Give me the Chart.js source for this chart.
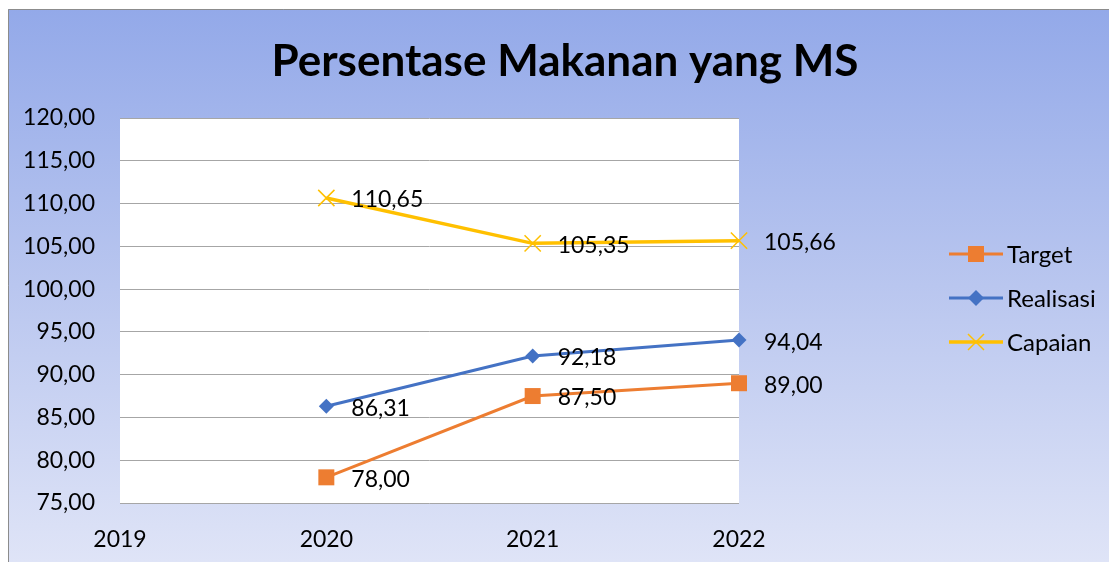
<!DOCTYPE html>
<html>
<head>
<meta charset="utf-8">
<script src="https://cdn.jsdelivr.net/npm/chart.js@4.4.1/dist/chart.umd.min.js"></script>
<style>
  html, body { margin: 0; padding: 0; background: #fff; }
  #wrap { width: 1109px; height: 562px; }
</style>
</head>
<body>
<div id="wrap"><canvas id="myChart" width="1109" height="562"></canvas></div>
<script>
const chartTitle = 'Persentase Makanan yang MS';
const years = [2020, 2021, 2022];
const seriesNames = ['Target', 'Realisasi', 'Capaian'];
const target = [78.00, 87.50, 89.00];
const realisasi = [86.31, 92.18, 94.04];
const capaian = [110.65, 105.35, 105.66];
const xTicks = [2019, 2020, 2021, 2022];
const yTicks = [75, 80, 85, 90, 95, 100, 105, 110, 115, 120];

const colors = ['#ED7D31', '#4472C4', '#FFC000'];
const FONT = 'Lato';

function fmt(v) {
  return v.toFixed(2).replace('.', ',');
}

function toPoints(values) {
  return years.map((y, i) => ({ x: y, y: values[i] }));
}

// draw one legend marker by hand (square / diamond / cross)
function drawMarker(ctx, kind, x, y, color) {
  ctx.save();
  ctx.fillStyle = color;
  ctx.strokeStyle = color;
  if (kind === 'rect') {
    ctx.fillRect(x - 8, y - 8, 16, 16);
  } else if (kind === 'rectRot') {
    ctx.beginPath();
    ctx.moveTo(x, y - 8);
    ctx.lineTo(x + 8, y);
    ctx.lineTo(x, y + 8);
    ctx.lineTo(x - 8, y);
    ctx.closePath();
    ctx.fill();
  } else {
    ctx.lineWidth = 1.5;
    ctx.beginPath();
    ctx.moveTo(x - 8, y - 8); ctx.lineTo(x + 8, y + 8);
    ctx.moveTo(x + 8, y - 8); ctx.lineTo(x - 8, y + 8);
    ctx.stroke();
  }
  ctx.restore();
}

const backgroundPlugin = {
  id: 'bg',
  beforeDraw(chart) {
    const { ctx, width, height, chartArea } = chart;
    ctx.save();
    ctx.fillStyle = '#fff';
    ctx.fillRect(0, 0, width, height);
    const g = ctx.createLinearGradient(0, 9, 0, height);
    g.addColorStop(0, '#93a9e9');
    g.addColorStop(0.5, '#b9c6ef');
    g.addColorStop(1, '#dfe4f7');
    ctx.fillStyle = g;
    ctx.fillRect(8, 9, width - 8, height - 9);
    ctx.strokeStyle = '#8c8c8c';
    ctx.lineWidth = 1;
    ctx.beginPath();
    ctx.moveTo(8.5, height); ctx.lineTo(8.5, 9.5); ctx.lineTo(width, 9.5);
    ctx.stroke();
    ctx.fillStyle = '#fff';
    ctx.fillRect(chartArea.left, chartArea.top, chartArea.right - chartArea.left, chartArea.bottom - chartArea.top);
    ctx.restore();
  }
};

const labelsPlugin = {
  id: 'labels',
  afterDraw(chart) {
    const { ctx } = chart;
    ctx.save();
    ctx.font = '23px ' + FONT;
    ctx.fillStyle = '#000';
    ctx.textAlign = 'left';
    ctx.textBaseline = 'middle';
    chart.data.datasets.forEach((ds, i) => {
      const meta = chart.getDatasetMeta(i);
      meta.data.forEach((pt, j) => {
        ctx.fillText(fmt(ds.data[j].y), pt.x + 25, pt.y + 2);
      });
    });

    // title
    ctx.font = 'bold 44px ' + FONT;
    ctx.textAlign = 'center';
    ctx.fillText(chartTitle, 565, 62);

    // legend
    ctx.font = '24px ' + FONT;
    ctx.textAlign = 'left';
    const rows = [254, 298, 342];
    chart.data.datasets.forEach((ds, i) => {
      const y = rows[i];
      ctx.strokeStyle = ds.borderColor;
      ctx.lineWidth = ds.borderWidth;
      ctx.beginPath();
      ctx.moveTo(949, y); ctx.lineTo(1003, y);
      ctx.stroke();
      drawMarker(ctx, ds.pointStyle, 976, y, ds.borderColor);
      ctx.fillStyle = '#000';
      ctx.fillText(ds.label, 1007, y + 1);
    });
    ctx.restore();
  }
};

const canvas = document.getElementById('myChart');

new Chart(canvas, {
  type: 'line',
  data: {
    datasets: [
      {
        label: seriesNames[0],
        data: toPoints(target),
        borderColor: colors[0],
        backgroundColor: colors[0],
        borderWidth: 3,
        pointStyle: 'rect',
        pointRadius: 11.3,
        pointBorderWidth: 0,
        clip: false,
      },
      {
        label: seriesNames[1],
        data: toPoints(realisasi),
        borderColor: colors[1],
        backgroundColor: colors[1],
        borderWidth: 3,
        pointStyle: 'rectRot',
        pointRadius: 7.5,
        pointBorderWidth: 0,
        clip: false,
      },
      {
        label: seriesNames[2],
        data: toPoints(capaian),
        borderColor: colors[2],
        backgroundColor: colors[2],
        borderWidth: 3.5,
        pointStyle: 'crossRot',
        pointRadius: 11.5,
        pointBorderWidth: 1.5,
        clip: false,
      },
    ]
  },
  options: {
    responsive: false,
    animation: false,
    layout: {
      padding: { left: 0, right: 370, top: 118, bottom: 0 }
    },
    plugins: {
      legend: { display: false },
      tooltip: { enabled: false },
      title: { display: false },
    },
    scales: {
      x: {
        type: 'linear',
        min: xTicks[0],
        max: xTicks[xTicks.length - 1],
        afterBuildTicks(axis) {
          axis.ticks = xTicks.map(v => ({ value: v }));
        },
        afterFit(axis) { axis.height = 59; },
        grid: { display: false },
        border: { display: false },
        ticks: {
          padding: 15,
          color: '#000',
          font: { family: FONT, size: 23 },
          callback: v => String(v),
        }
      },
      y: {
        min: yTicks[0],
        max: yTicks[yTicks.length - 1],
        afterBuildTicks(axis) {
          axis.ticks = yTicks.map(v => ({ value: v }));
        },
        afterFit(axis) { axis.width = 120; },
        grid: {
          color: '#a6a6a6',
          lineWidth: 1,
          drawTicks: false,
        },
        border: { display: false },
        ticks: {
          padding: 25,
          color: '#000',
          font: { family: FONT, size: 23 },
          callback: v => fmt(v),
        }
      }
    }
  },
  plugins: [backgroundPlugin, labelsPlugin]
});
</script>
</body>
</html>
